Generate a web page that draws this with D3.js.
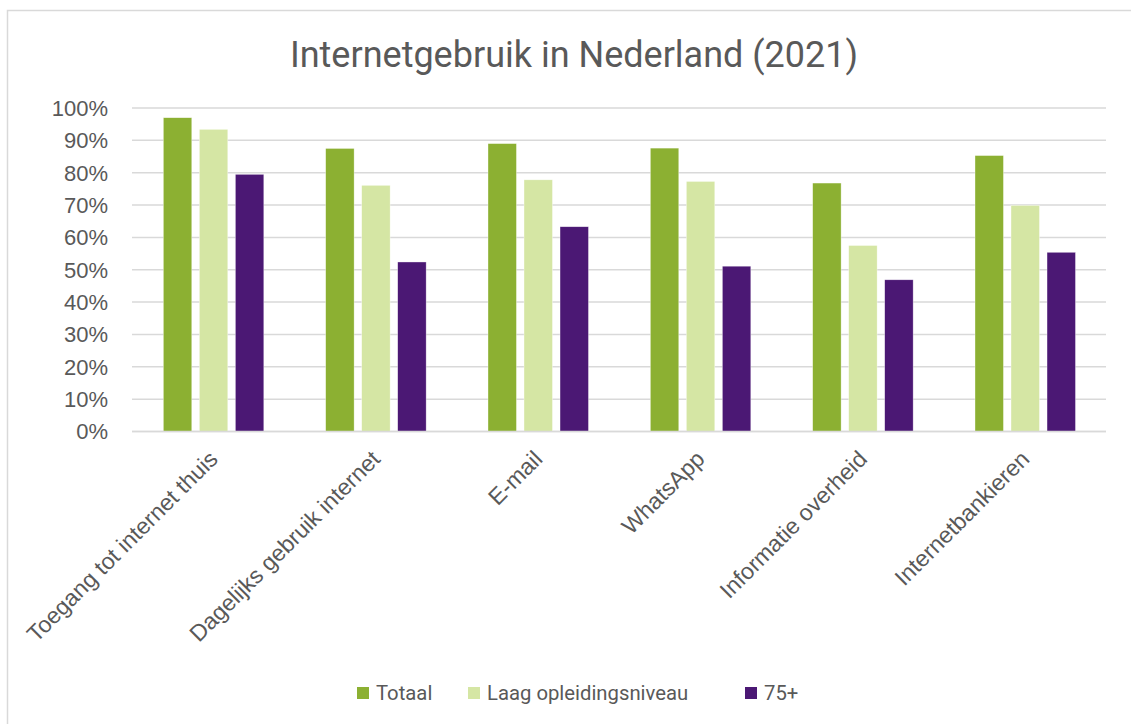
<!DOCTYPE html>
<html><head><meta charset="utf-8">
<script src="https://cdn.jsdelivr.net/npm/d3@7"></script>
<style>html,body{margin:0;padding:0;background:#fff;}svg{display:block;}</style>
</head><body>
<svg id="c" width="1131" height="724"></svg>
<script>
const categories = ["Toegang tot internet thuis","Dagelijks gebruik internet","E-mail","WhatsApp","Informatie overheid","Internetbankieren"];
const seriesNames = ["Totaal","Laag opleidingsniveau","75+"];
const totaal = [97, 87.5, 89, 87.6, 76.8, 85.3];
const laag = [93.4, 76.1, 77.8, 77.3, 57.5, 69.9];
const ouder75 = [79.5, 52.4, 63.3, 51.1, 46.9, 55.4];
const yTicks = [0,10,20,30,40,50,60,70,80,90,100];
const colors = ["#8cb032","#d5e6a4","#4b1874"];

(function(){
const values = [totaal, laag, ouder75];
const svg = d3.select("#c");
const textColor = "#595959";
const axisFont = "'Liberation Sans', Arial, sans-serif";
const titleFont = "Roboto, 'Open Sans', sans-serif";

svg.append("rect").attr("x",7.5).attr("y",10.5).attr("width",1130).attr("height",720)
  .attr("fill","#fff").attr("stroke","#d9d9d9").attr("stroke-width",1.5);

const pLeft = 132, pRight = 1106, pTop = 108, pBottom = 431.5;
const x0 = d3.scaleBand().domain(categories).range([pLeft, pRight]).paddingInner(0).paddingOuter(0);
const bw = x0.bandwidth();
const x1 = d3.scaleBand().domain(seriesNames).range([bw*0.193, bw*0.812]).paddingInner(0.21).paddingOuter(0);
const y = d3.scaleLinear().domain([0,100]).range([pBottom, pTop]);

svg.append("g").selectAll("line").data(yTicks).join("line")
  .attr("x1", pLeft).attr("x2", pRight)
  .attr("y1", d=>y(d)).attr("y2", d=>y(d))
  .attr("stroke","#d9d9d9").attr("stroke-width",1.5);

svg.append("g").selectAll("text").data(yTicks).join("text")
  .attr("x",108).attr("y", d=>y(d)).attr("dy","0.36em")
  .attr("text-anchor","end").attr("fill",textColor)
  .style("font-family",axisFont).style("font-size","22px")
  .text(d=>d+"%");

const rows = [];
seriesNames.forEach((s,si)=>categories.forEach((c,ci)=>rows.push({s, c, v: values[si][ci], color: colors[si]})));
svg.append("g").selectAll("rect").data(rows).join("rect")
  .attr("x", d=>x0(d.c)+x1(d.s)).attr("width", x1.bandwidth())
  .attr("y", d=>y(d.v)).attr("height", d=>y(0)-y(d.v))
  .attr("fill", d=>d.color).attr("stroke","#ffffff").attr("stroke-width",0.6).attr("stroke-opacity",0.6);

svg.append("line").attr("x1",pLeft).attr("x2",pRight).attr("y1",y(0)).attr("y2",y(0))
  .attr("stroke","#d9d9d9").attr("stroke-width",1.5);

svg.append("g").selectAll("text").data(categories).join("text")
  .attr("transform", d=>`translate(${x0(d)+bw/2+6},${pBottom+29}) rotate(-45)`)
  .attr("text-anchor","end").attr("fill",textColor)
  .style("font-family",axisFont).style("font-size","23px")
  .text(d=>d);

svg.append("text").attr("x",574).attr("y",67).attr("text-anchor","middle")
  .attr("fill",textColor).style("font-family",titleFont).style("font-size","36px")
  .text("Internetgebruik in Nederland (2021)");

const legendX = [357, 468, 745];
const lg = svg.append("g").selectAll("g").data(seriesNames).join("g")
  .attr("transform",(d,i)=>`translate(${legendX[i]},687)`);
lg.append("rect").attr("width",12).attr("height",12).attr("fill",(d,i)=>colors[i]);
lg.append("text").attr("x",19).attr("y",6).attr("dy","0.36em").attr("fill",textColor)
  .style("font-family",titleFont).style("font-size","20.3px").text(d=>d);
})();
</script>
</body></html>
